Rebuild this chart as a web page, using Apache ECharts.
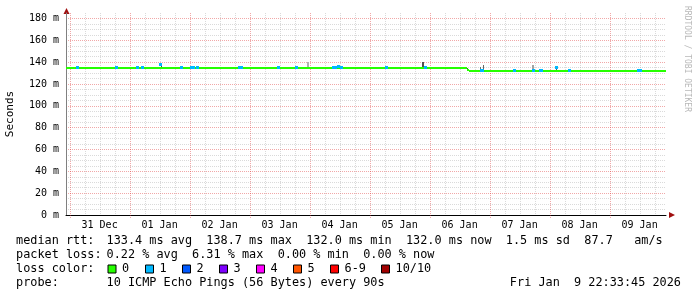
<!DOCTYPE html>
<html><head><meta charset="utf-8">
<script src="https://cdn.jsdelivr.net/npm/echarts@6/dist/echarts.min.js"></script>
<style>html,body{margin:0;padding:0;background:#fff}#c{width:697px;height:297px}</style>
</head><body><div id="c"></div>
<script>
// ---------- data ----------
const timeStart = '2025-12-30 22:33:45';
const timeEnd = '2026-01-09 22:33:45';
const dayLabels = ['31 Dec','01 Jan','02 Jan','03 Jan','04 Jan','05 Jan','06 Jan','07 Jan','08 Jan','09 Jan'];
const dayStarts = ['2025-12-31 00:00','2026-01-01 00:00','2026-01-02 00:00','2026-01-03 00:00','2026-01-04 00:00',
                   '2026-01-05 00:00','2026-01-06 00:00','2026-01-07 00:00','2026-01-08 00:00','2026-01-09 00:00'];
const yMaxValue = 185;
const yLabelStep = 20;

// median RTT level (ms), each value holds from medianTimes[i] to medianTimes[i+1]
const medianTimes  = ['2025-12-30 22:33:45','2026-01-06 15:05','2026-01-06 15:40','2026-01-09 22:33:45'];
const medianValues = [134.2, 133.2, 132.0];

// periods with packet loss: start, end, median (ms), lost pings
const lossStart  = ['2025-12-31 02:35','2025-12-31 18:10','2026-01-01 02:35','2026-01-01 04:40','2026-01-01 11:50',
                    '2026-01-01 20:10','2026-01-02 00:10','2026-01-02 02:35','2026-01-02 19:30','2026-01-03 10:55',
                    '2026-01-03 18:10','2026-01-04 08:55','2026-01-04 10:55','2026-01-04 12:10','2026-01-05 06:10',
                    '2026-01-05 21:50','2026-01-06 20:10','2026-01-07 09:30','2026-01-07 16:55','2026-01-07 19:55',
                    '2026-01-08 02:10','2026-01-08 07:15','2026-01-09 11:05'];
const lossEnd    = ['2025-12-31 03:10','2025-12-31 18:55','2026-01-01 03:20','2026-01-01 05:50','2026-01-01 12:25',
                    '2026-01-01 20:45','2026-01-02 02:10','2026-01-02 03:20','2026-01-02 21:30','2026-01-03 11:40',
                    '2026-01-03 19:05','2026-01-04 10:55','2026-01-04 11:40','2026-01-04 13:00','2026-01-05 06:55',
                    '2026-01-05 22:30','2026-01-06 21:50','2026-01-07 10:35','2026-01-07 17:50','2026-01-07 21:15',
                    '2026-01-08 03:10','2026-01-08 07:55','2026-01-09 12:55'];
const lossMedian = [134.2, 134.2, 134.6, 134.2, 137.2,
                    134.2, 134.2, 134.6, 134.2, 134.2,
                    134.6, 134.2, 135.5, 134.2, 134.2,
                    134.2, 132.0, 132.0, 132.0, 132.0,
                    134.4, 132.0, 132.0];
const lossCount  = [1,1,1,1,1, 1,1,1,1,1, 1,1,1,1,1, 1,1,1,1,1, 1,1,1];

// smoke (spread of ping rtts): start, end, low, high (ms), density 0..1
const smokeStart   = ['2025-12-31 18:10','2026-01-01 12:25','2026-01-03 09:20','2026-01-03 22:55','2026-01-04 11:00',
                      '2026-01-05 20:55','2026-01-06 15:00','2026-01-06 20:10','2026-01-06 21:10','2026-01-07 16:55','2026-01-08 02:40'];
const smokeEnd     = ['2025-12-31 18:55','2026-01-01 12:55','2026-01-03 09:45','2026-01-03 23:40','2026-01-04 11:40',
                      '2026-01-05 21:50','2026-01-06 15:30','2026-01-06 20:35','2026-01-06 21:45','2026-01-07 17:50','2026-01-08 03:05'];
const smokeLow     = [134.2, 134.0, 134.2, 134.5, 134.2, 134.0, 132.0, 132.0, 132.0, 132.0, 132.0];
const smokeHigh    = [136.0, 138.0, 135.6, 140.3, 136.2, 140.5, 134.2, 135.9, 137.7, 137.7, 134.0];
const smokeDensity = [0.9, 0.95, 0.7, 0.25, 0.85, 0.9, 0.9, 0.7, 0.75, 0.35, 0.85];

const lossLabels = ['0','1','2','3','4','5','6-9','10/10'];
const lossColors = ['#26ff00','#00b8ff','#0059ff','#7e00ff','#ff00ff','#ff5500','#ff0000','#a10000'];

const statsLabels = ['median rtt:','packet loss:','loss color:','probe:'];
const statsValues = ['133.4 ms avg  138.7 ms max  132.0 ms min  132.0 ms now  1.5 ms sd  87.7   am/s',
                     '0.22 % avg  6.31 % max  0.00 % min  0.00 % now',
                     '',
                     '10 ICMP Echo Pings (56 Bytes) every 90s'];
const stampText = 'Fri Jan  9 22:33:45 2026';
const watermark = 'RRDTOOL / TOBI OETIKER';

// ---------- helpers ----------
function T(s){
  const m = s.match(/(\d+)-(\d+)-(\d+) (\d+):(\d+)(?::(\d+))?/);
  return Date.UTC(+m[1], +m[2]-1, +m[3], +m[4], +m[5], +(m[6]||0));
}
const H = 3600000;
function lossColor(n){ if(n<=5) return lossColors[n]; if(n<10) return lossColors[6]; return lossColors[7]; }
function smokeColor(d){ const g = Math.round(215 - d*150); return 'rgb('+g+','+g+','+g+')'; }

const MONO = '"DejaVu Sans Mono", monospace';
const LEG_FONT = '11.85px ' + MONO;
const MAJOR = 'rgba(222,48,48,0.42)';
const MINOR = 'rgba(140,140,140,0.32)';

// vertical grid (every 6 h, midnights major)
const vGrid = [];
dayStarts.forEach(d => { for (let k=0;k<4;k++) vGrid.push([T(d)+k*6*H, k===0?1:0]); });
const dayLabelData = dayStarts.map((d,i) => [T(d)+12*H, 0, i]);

const baseData = [];
for (let i=0;i<medianValues.length;i++) baseData.push([T(medianTimes[i]), T(medianTimes[i+1]), medianValues[i], 0]);
const lossData = lossStart.map((s,i)=>[T(s), T(lossEnd[i]), lossMedian[i], lossCount[i]]);
const smokeData = smokeStart.map((s,i)=>[T(s), T(smokeEnd[i]), smokeLow[i], smokeHigh[i], smokeDensity[i]]);

// ---------- chart ----------
const chart = echarts.init(document.getElementById('c'), null, {renderer:'canvas'});

const graphics = [];
graphics.push({type:'polygon', shape:{points:[[63.5,14],[69.5,14],[66.5,8]]}, style:{fill:'#a01010'}, silent:true});
graphics.push({type:'polygon', shape:{points:[[669,212],[669,218],[675,215]]}, style:{fill:'#a01010'}, silent:true});
graphics.push({type:'text', x:687, y:59, rotation:-Math.PI/2, silent:true,
  style:{text:watermark, font:'8px '+MONO, fill:'#b8b8b8', align:'center', verticalAlign:'middle'}});
const lineY = [241, 255, 269, 283];
statsLabels.forEach((s,i)=>{
  graphics.push({type:'text', silent:true, style:{text:s, x:16, y:lineY[i], font:LEG_FONT, fill:'#000', verticalAlign:'middle'}});
  if (statsValues[i]) graphics.push({type:'text', silent:true, style:{text:statsValues[i], x:106.5, y:lineY[i], font:LEG_FONT, fill:'#000', verticalAlign:'middle'}});
});
const boxX = [108, 145.5, 182.5, 219.5, 256.5, 293.5, 330.5, 381.5];
lossLabels.forEach((l,i)=>{
  graphics.push({type:'rect', silent:true, shape:{x:boxX[i], y:265, width:8, height:8}, style:{fill:lossColors[i], stroke:'#000', lineWidth:1}});
  graphics.push({type:'text', silent:true, style:{text:l, x:boxX[i]+14, y:lineY[2], font:LEG_FONT, fill:'#000', verticalAlign:'middle'}});
});
graphics.push({type:'text', silent:true, style:{text:stampText, x:681, y:lineY[3], font:LEG_FONT, fill:'#000', align:'right', verticalAlign:'middle'}});

function medianRender(p, api){
  const a = api.coord([api.value(0), api.value(2)]), b = api.coord([api.value(1), api.value(2)]);
  const x0 = Math.round(a[0]), x1 = Math.round(b[0]);
  return {type:'rect', shape:{x:x0, y:Math.round(a[1])-1, width:Math.max(2, x1-x0), height:2},
          style:{fill:lossColor(api.value(3))}};
}
function lossRender(p, api){
  const a = api.coord([api.value(0), api.value(2)]), b = api.coord([api.value(1), api.value(2)]);
  const x0 = Math.round(a[0]), x1 = Math.round(b[0]);
  return {type:'rect', shape:{x:x0, y:Math.round(a[1])-2, width:Math.max(3, x1-x0), height:3},
          style:{fill:lossColor(api.value(3))}};
}

chart.setOption({
  animation:false,
  backgroundColor:'#fff',
  grid:{left:66, top:13, width:600, height:202, containLabel:false, outerBoundsMode:'none'},
  xAxis:{type:'value', min:T(timeStart), max:T(timeEnd),
    axisLine:{show:true, lineStyle:{color:'#000', width:1}}, axisTick:{show:false}, axisLabel:{show:false}, splitLine:{show:false}},
  yAxis:{type:'value', min:0, max:yMaxValue, interval:5,
    name:'Seconds', nameLocation:'middle', nameGap:50, nameTextStyle:{fontFamily:MONO, fontSize:11, color:'#000'},
    axisLine:{show:true, lineStyle:{color:'#808080'}},
    axisTick:{show:false},
    axisLabel:{fontFamily:MONO, fontSize:10, color:'#000', margin:7, showMaxLabel:false,
      formatter:v => (v % yLabelStep === 0 ? v + ' m' : '')},
    splitLine:{show:true, showMaxLine:false, lineStyle:{color:[MAJOR, MINOR, MINOR, MINOR], type:[1,1], width:1}}
  },
  graphic:graphics,
  series:[
    {type:'custom', z:1, silent:true, data:vGrid, clip:false,
     renderItem(p, api){
       const t = api.value(0), major = api.value(1);
       const a = api.coord([t, yMaxValue]), b = api.coord([t, 0]);
       const x = Math.round(a[0]) + 0.5;
       return {type:'line', shape:{x1:x, y1:a[1], x2:x, y2:b[1] + (major?3:0)},
               style:{stroke: major?MAJOR:MINOR, lineWidth:1, lineDash:[1,1]}};
     }},
    {type:'custom', z:2, silent:true, data:dayLabelData, clip:false,
     renderItem(p, api){
       const c = api.coord([api.value(0), 0]);
       return {type:'text', x:c[0], y:c[1]+10,
               style:{text:dayLabels[api.value(2)], font:'10px '+MONO, fill:'#000', align:'center', verticalAlign:'middle'}};
     }},
    {type:'custom', z:3, silent:true, data:smokeData,
     renderItem(p, api){
       const a = api.coord([api.value(0), api.value(3)]), b = api.coord([api.value(1), api.value(2)]);
       return {type:'rect', shape:{x:Math.round(a[0]), y:Math.round(a[1]), width:Math.max(1, Math.round(b[0]-a[0])), height:Math.max(1, Math.round(b[1]-a[1]))},
               style:{fill:smokeColor(api.value(4))}};
     }},
    {type:'custom', z:4, silent:true, data:baseData, renderItem:medianRender},
    {type:'custom', z:5, silent:true, data:lossData, renderItem:lossRender}
  ]
});
</script></body></html>
